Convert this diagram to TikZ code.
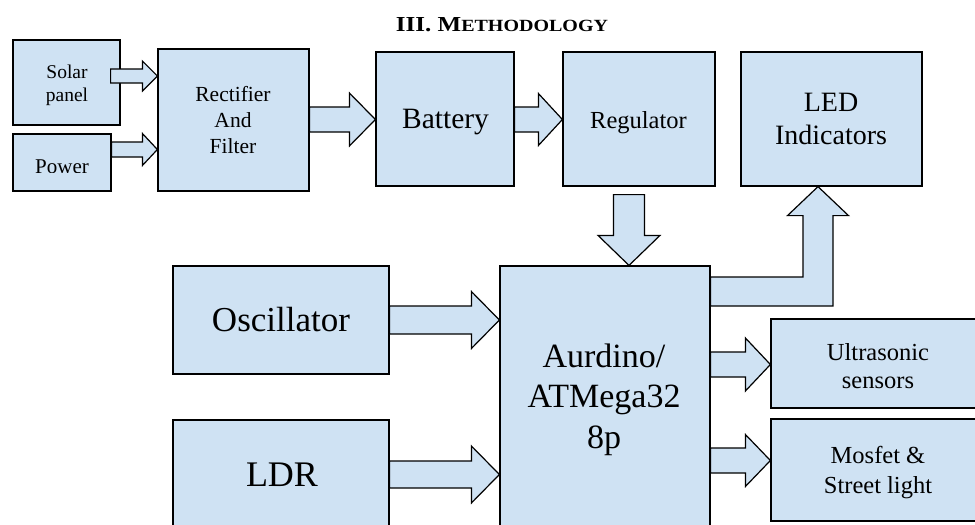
\documentclass[tikz,border=0pt]{standalone}
\usepackage{fontspec}
\setmainfont{Liberation Serif}
\usetikzlibrary{calc}
\definecolor{boxblue}{RGB}{207,226,243}
\tikzset{
  blockbox/.style={draw=black, fill=boxblue, line width=1.2pt, inner sep=0pt},
  txt/.style={inner sep=0pt, align=center},
  blk/.style={draw=black, fill=boxblue, line width=1.2pt, line join=miter},
}
\newcommand\fs[2]{\fontsize{#1}{#2}\selectfont}
% horizontal block arrow: tail point, tip point, shaft half width, head half width, head length
\newcommand\harrow[5]{%
  \draw[blk] let \p1=#1, \p2=#2 in
   (\x1,\y2+#3) -- (\x2-#5,\y2+#3) -- (\x2-#5,\y2+#4) -- (\x2,\y2)
   -- (\x2-#5,\y2-#4) -- (\x2-#5,\y2-#3) -- (\x1,\y2-#3) -- cycle;}
% downward block arrow
\newcommand\varrow[5]{%
  \draw[blk] let \p1=#1, \p2=#2 in
   (\x2-#3,\y1) -- (\x2+#3,\y1) -- (\x2+#3,\y2+#5) -- (\x2+#4,\y2+#5) -- (\x2,\y2)
   -- (\x2-#4,\y2+#5) -- (\x2-#3,\y2+#5) -- cycle;}
\begin{document}
\begin{tikzpicture}[x=1pt,y=-1pt]
\clip (0,0) rectangle (975,525);

% title
\node[anchor=base, inner sep=0pt] (title) at (502,31)
  {\resizebox{212pt}{14pt}{\fs{10}{12}\bfseries III. M{\fs{8}{10}\selectfont ETHODOLOGY}}};

% boxes
\node[blockbox, minimum width=107pt, minimum height=85pt]  (sol)  at (66.5,82.5) {};
\node[blockbox, minimum width=98pt,  minimum height=57pt]  (pow)  at (62,162.5)  {};
\node[blockbox, minimum width=151pt, minimum height=142pt] (rect) at (233.5,120) {};
\node[blockbox, minimum width=138pt, minimum height=134pt] (bat)  at (445,119)   {};
\node[blockbox, minimum width=152pt, minimum height=134pt] (reg)  at (639,119)   {};
\node[blockbox, minimum width=181pt, minimum height=134pt] (led)  at (831.5,119) {};
\node[blockbox, minimum width=216pt, minimum height=108pt] (osc)  at (281,320)   {};
\node[blockbox, minimum width=216pt, minimum height=110pt] (ldr)  at (281,475)   {};
\node[blockbox, minimum width=210pt, minimum height=268pt] (ard)  at (605,400)   {};
\node[blockbox, minimum width=214pt, minimum height=89pt]  (ult)  at (878,363.5) {};
\node[blockbox, minimum width=214pt, minimum height=102pt] (mos)  at (878,470)   {};

% texts
\node[txt, font=\fs{19.5}{23}] (soltxt) at (67,85) {Solar\\panel};
\begin{scope}
  \clip (13,134) rectangle (111,172.3);
  \node[anchor=base, inner sep=0pt, font=\fs{21}{24}] (powtxt) at (62,173.3) {Power};
\end{scope}
\node[txt, font=\fs{21.5}{26}] (recttxt) at (233,119.7) {Rectifier\\And\\Filter};
\node[txt, font=\fs{29.5}{34}] (battxt) at (445.5,122.5) {Battery};
\node[txt, font=\fs{24.5}{28}] (regtxt) at (638.5,122.3) {Regulator};
\node[txt, font=\fs{28}{33}] (ledtxt) at (831,119.3) {LED\\Indicators};
\node[txt, font=\fs{35}{40}] (osctxt) at (281,320) {Oscillator};
\node[txt, font=\fs{36}{41}] (ldrtxt) at (282,475) {LDR};
\node[txt, font=\fs{34}{40.5}] (ardtxt) at (604,399.6) {Aurdino/\\ATMega32\\8p};
\node[txt, font=\fs{24.5}{28}] (ulttxt) at (878,365.7) {Ultrasonic\\sensors};
\node[txt, font=\fs{24.5}{30}] (mostxt) at (878,472.3) {Mosfet \&\\Street light};

% block arrows
\harrow{($(sol.east)+(-10,0)$)}{(rect.west |- 0,76)}{7pt}{15pt}{15pt}
\harrow{(pow.east)}{(rect.west |- 0,149.5)}{7.5pt}{16pt}{15pt}
\harrow{(rect.east)}{(bat.west |- 0,119.5)}{12.5pt}{26.5pt}{26pt}
\harrow{(bat.east)}{(reg.west |- 0,119.5)}{12.5pt}{26pt}{24pt}
\varrow{($(reg.south)+(0,8)$)}{(ard.north -| 629,0)}{15.5pt}{31pt}{30pt}
\harrow{(osc.east)}{(ard.west |- 0,320)}{14pt}{28.5pt}{28pt}
\harrow{(ldr.east)}{(ard.west |- 0,474.5)}{13.5pt}{28.5pt}{28pt}
\harrow{(ard.east)}{(ult.west |- 0,364.5)}{12.5pt}{26.5pt}{25pt}
\harrow{(ard.east)}{(mos.west |- 0,460.5)}{12.5pt}{26pt}{25pt}
% elbow arrow to LED indicators
\draw[blk] let \p1=(ard.east |- 0,291.5), \p2=(led.south -| 818,0) in
  (\x1,\y1+14.5pt) -- (\x2-15pt,\y1+14.5pt) -- (\x2-15pt,\y2-29pt)
  -- (\x2-30.5pt,\y2-29pt) -- (\x2,\y2) -- (\x2+30.5pt,\y2-29pt)
  -- (\x2+15pt,\y2-29pt) -- (\x2+15pt,\y1-14.5pt) -- (\x1,\y1-14.5pt) -- cycle;
\end{tikzpicture}
\end{document}
